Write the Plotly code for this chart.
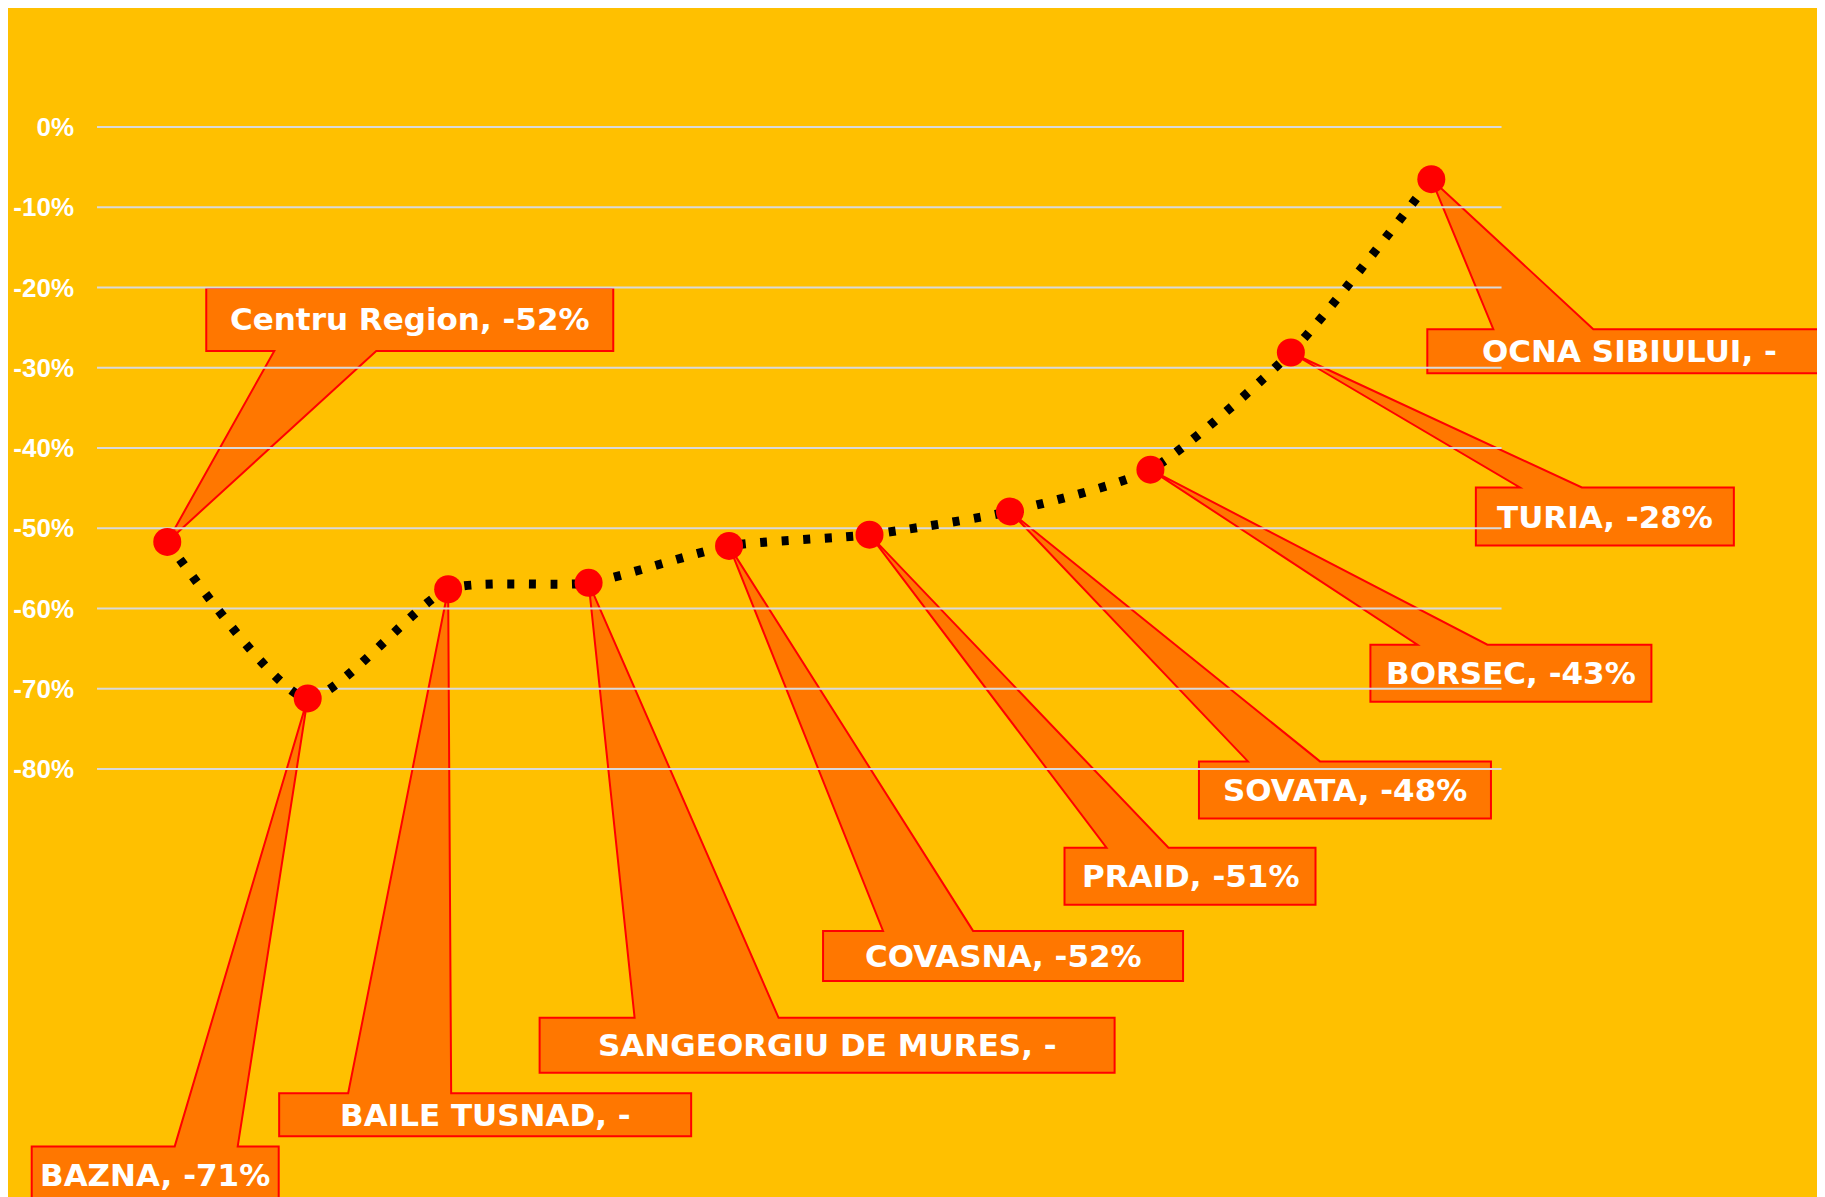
import plotly.graph_objects as go

# ---- data ----
categories = ["Centru Region", "BAZNA", "BAILE TUSNAD", "SANGEORGIU DE MURES", "COVASNA",
              "PRAID", "SOVATA", "BORSEC", "TURIA", "OCNA SIBIULUI"]
values = [-0.517, -0.712, -0.576, -0.568, -0.522, -0.508, -0.479, -0.427, -0.281, -0.065]
labels = ["Centru Region, -52%", "BAZNA, -71%", "BAILE TUSNAD, -", "SANGEORGIU DE MURES, -",
          "COVASNA, -52%", "PRAID, -51%", "SOVATA, -48%", "BORSEC, -43%", "TURIA, -28%",
          "OCNA SIBIULUI, -"]
tick_vals = [0, -0.1, -0.2, -0.3, -0.4, -0.5, -0.6, -0.7, -0.8]
tick_text = ["0%", "-10%", "-20%", "-30%", "-40%", "-50%", "-60%", "-70%", "-80%"]

# ---- callout geometry (pixel offsets from each point, screen y down) ----
# (left, top, right, bottom, tail_left, tail_right)
callouts = [
    (39, -254, 446, -191, 107, 209),
    (-276, 448, -29, 505, -133, -70),
    (-169, 504, 243, 547, -100, 3),
    (-49, 435, 526, 490, 46, 190),
    (94, 385, 454, 435, 154, 244),
    (195, 313, 446, 370, 237, 299),
    (189, 250, 481, 307, 238, 310),
    (220, 175, 501, 232, 267, 337),
    (185, 135, 443, 193, 229, 291),
    (-4, 150, 400, 194, 62, 162),
]

BG = "#FFC000"
FILL = "#FF7700"
EDGE = "#FF0000"
GRID = "#D9D9D9"

fig = go.Figure()
fig.add_trace(go.Scatter(
    x=categories, y=values, mode="lines+markers",
    line=dict(color="black", width=9, dash="7px,14.5px", shape="spline", smoothing=0.6),
    marker=dict(color="#FF0000", size=28, line=dict(width=0)),
    showlegend=False, hoverinfo="skip",
))

shapes = []
annotations = []
for i, (v, lab, c) in enumerate(zip(values, labels, callouts)):
    L, T, R, B, tl, tr = c
    if B < 0:  # box above point, tail on bottom edge
        pts = [(L, T), (R, T), (R, B), (tr, B), (0, 0), (tl, B), (L, B)]
    else:      # box below point, tail on top edge
        pts = [(L, T), (tl, T), (0, 0), (tr, T), (R, T), (R, B), (L, B)]
    path = "M " + " L ".join(f"{x},{-y}" for x, y in pts) + " Z"
    shapes.append(dict(type="path", path=path, xref="x", yref="y",
                       xsizemode="pixel", ysizemode="pixel", xanchor=i, yanchor=v,
                       fillcolor=FILL, line=dict(color=EDGE, width=2), layer="below"))
    annotations.append(dict(x=i, y=v, xref="x", yref="y", text=lab, showarrow=False,
                            xshift=(L + R) / 2, yshift=-(T + B) / 2,
                            xanchor="center", yanchor="middle",
                            font=dict(family="Comic Sans MS, DejaVu Sans", size=31,
                                      color="white", weight="bold")))

for tv in tick_vals:
    shapes.append(dict(type="line", xref="x", yref="y", x0=-0.5, x1=len(categories) - 0.5,
                       y0=tv, y1=tv, line=dict(color=GRID, width=2), layer="below"))

fig.update_layout(
    width=1825, height=1197,
    paper_bgcolor="white", plot_bgcolor=BG,
    margin=dict(l=0, r=0, t=0, b=0, autoexpand=False),
    shapes=shapes, annotations=annotations,
    xaxis=dict(type="category", range=[-1.1339, 11.860], visible=False),
    yaxis=dict(range=[-1.3433, 0.14829], tickvals=tick_vals, ticktext=tick_text,
               showgrid=False, zeroline=False, showline=False, ticks="",
               anchor="free", position=0.0362, automargin=False,
               tickfont=dict(family="Liberation Sans, Arial", size=26, color="white", weight="bold")),
)

fig.write_html("out.html")
